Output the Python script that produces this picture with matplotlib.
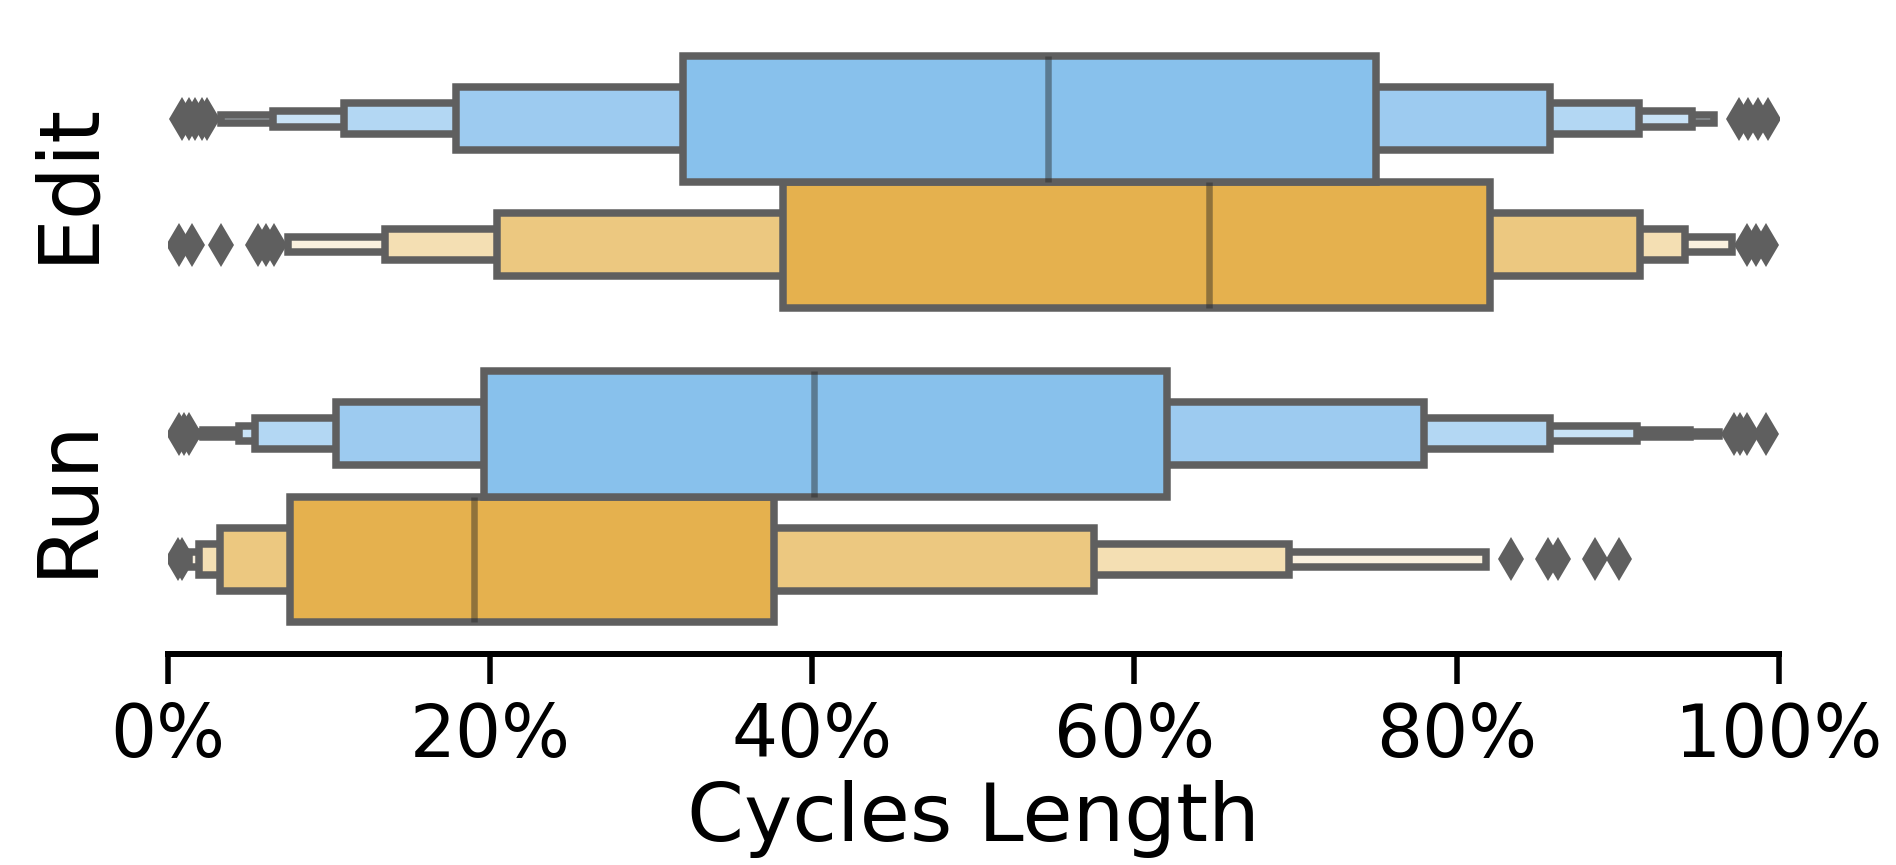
import matplotlib
matplotlib.use("Agg")
import matplotlib.pyplot as plt
from matplotlib.ticker import PercentFormatter

# categories (y axis) and the two hue groups
categories = ["Edit", "Run"]
hues = ["blue", "orange"]

# letter values, innermost box first (percent of cycle length)
edit_blue_lower = [32.0, 17.9, 10.9, 6.5, 3.3]
edit_blue_upper = [75.0, 85.8, 91.3, 94.6, 96.0]
edit_blue_median = 54.6
edit_blue_outliers = [0.9, 1.3, 1.7, 2.1, 2.4, 97.5, 98.1, 98.7, 99.3]

edit_orange_lower = [38.2, 20.4, 13.5, 7.45]
edit_orange_upper = [82.1, 91.4, 94.2, 97.1]
edit_orange_median = 64.6
edit_orange_outliers = [0.7, 1.5, 3.3, 5.6, 6.1, 6.6, 98.0, 98.6, 99.2]

run_blue_lower = [19.6, 10.4, 5.4, 4.4, 2.2, 1.8]
run_blue_upper = [62.0, 78.0, 85.8, 91.2, 94.5, 96.3]
run_blue_median = 40.1
run_blue_outliers = [0.7, 1.0, 1.3, 97.2, 97.6, 98.0, 99.2]

run_orange_lower = [7.6, 3.2, 1.9, 1.3]
run_orange_upper = [37.6, 57.5, 69.6, 81.8]
run_orange_median = 19.0
run_orange_outliers = [0.6, 0.9, 83.4, 85.7, 86.3, 88.6, 90.1]

blue_levels = ["#88C1EC", "#9DCBF0", "#B3D7F3", "#C8E2F6", "#DCEDF9", "#F0F7FC"]
orange_levels = ["#E5B14E", "#ECC880", "#F4DFB3", "#FAF1DF"]
gray = "#5f5f5f"

fig = plt.figure(figsize=(1896 / 180, 865 / 180), dpi=180)
ax = fig.add_axes([0.0886, 0.244, 0.8496, 0.728])

series = [
    (0, -0.2, edit_blue_lower, edit_blue_upper, edit_blue_median, edit_blue_outliers, blue_levels),
    (0, 0.2, edit_orange_lower, edit_orange_upper, edit_orange_median, edit_orange_outliers, orange_levels),
    (1, -0.2, run_blue_lower, run_blue_upper, run_blue_median, run_blue_outliers, blue_levels),
    (1, 0.2, run_orange_lower, run_orange_upper, run_orange_median, run_orange_outliers, orange_levels),
]

box_h = 0.4
for cat, off, lo, hi, med, outl, cols in series:
    y = cat + off
    n = len(lo)
    # outer boxes first so inner ones sit on top
    for k in range(n - 1, -1, -1):
        h = box_h * 0.5 ** k
        ax.barh(y, hi[k] - lo[k], left=lo[k], height=h, color=cols[k],
                edgecolor=gray, linewidth=3.0, zorder=3 + (n - k))
    ax.plot([med, med], [y - box_h / 2, y + box_h / 2], color=".15", alpha=0.45,
            lw=2.6, zorder=20, solid_capstyle="butt")
    ax.plot(outl, [y] * len(outl), linestyle="none", marker="d", markersize=12.5,
            color=gray, markeredgewidth=0, zorder=2)

ax.set_xlim(0, 100)
ax.set_ylim(1.5, -0.5)
ax.set_xticks([0, 20, 40, 60, 80, 100])
ax.xaxis.set_major_formatter(PercentFormatter(100, decimals=0))
ax.set_yticks([0, 1])
ax.set_yticklabels(categories, rotation=90, va="center", fontsize=33.5)
ax.tick_params(axis="y", length=0, pad=24)
ax.tick_params(axis="x", length=12, width=2.2, pad=7, labelsize=29)
ax.set_xlabel("Cycles Length", fontsize=32.6, labelpad=3)

for s in ["left", "top", "right"]:
    ax.spines[s].set_visible(False)
ax.spines["bottom"].set_linewidth(2.4)

fig.savefig("out.png", dpi=180)
